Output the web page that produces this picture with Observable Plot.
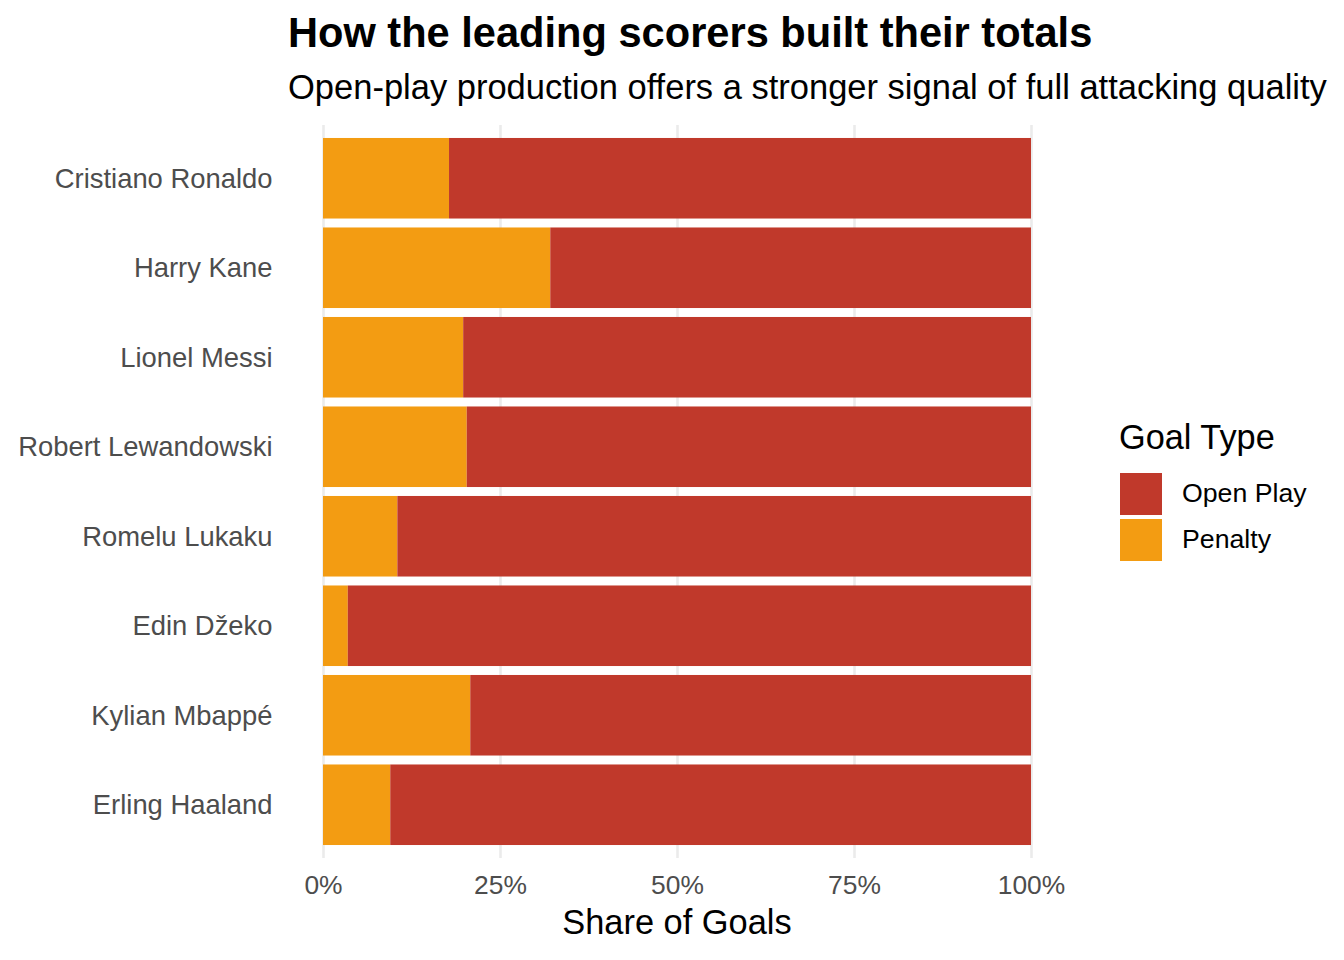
<!DOCTYPE html>
<html>
<head>
<meta charset="utf-8">
<script src="https://cdn.jsdelivr.net/npm/d3@7"></script>
<script src="https://cdn.jsdelivr.net/npm/@observablehq/plot@0.6"></script>
<style>
  html, body { margin: 0; padding: 0; background: #fff; }
  #wrap { position: relative; width: 1344px; height: 960px; font-family: "Liberation Sans", Arial, sans-serif; }
  #wrap svg { position: absolute; left: 0; top: 0; }
  .t { position: absolute; line-height: 1; white-space: nowrap; color: #000; }
  #title { left: 288px; top: 11.8px; font-size: 41.6px; font-weight: bold; }
  #subtitle { left: 288px; top: 69.8px; font-size: 34.5px; }
  #xtitle { left: 677px; top: 905px; font-size: 34.4px; transform: translateX(-50%); }
  #legend { position: absolute; left: 1119px; top: 420px; }
  #legend .lt { font-size: 34.3px; line-height: 1; white-space: nowrap; }
  .sw { position: absolute; width: 42px; height: 42px; }
  .ll { position: absolute; font-size: 26.7px; line-height: 1; white-space: nowrap; }
  .ytick text, .xtick text { fill: #4d4d4d; }
</style>
</head>
<body>
<div id="wrap">
  <div class="t" id="title">How the leading scorers built their totals</div>
  <div class="t" id="subtitle">Open-play production offers a stronger signal of full attacking quality</div>
  <div class="t" id="xtitle">Share of Goals</div>
  <div id="legend"></div>
</div>
<script>
const players = ["Cristiano Ronaldo", "Harry Kane", "Lionel Messi", "Robert Lewandowski", "Romelu Lukaku", "Edin Džeko", "Kylian Mbappé", "Erling Haaland"];
const penaltyShare  = [0.178, 0.321, 0.198, 0.203, 0.105, 0.035, 0.208, 0.095];
const openPlayShare = [0.822, 0.679, 0.802, 0.797, 0.895, 0.965, 0.792, 0.905];
const goalTypes = ["Open Play", "Penalty"];
const typeColors = ["#C0392B", "#F39C12"];
const xTicks = [0, 0.25, 0.5, 0.75, 1];

const rows = [];
players.forEach((p, i) => {
  rows.push({player: p, type: "Penalty", share: penaltyShare[i]});
  rows.push({player: p, type: "Open Play", share: openPlayShare[i]});
});

const chart = Plot.plot({
  width: 1344,
  height: 960,
  marginLeft: 323,
  marginRight: 313,
  marginTop: 125,
  marginBottom: 102,
  style: {fontFamily: "'Liberation Sans', Arial, sans-serif", background: "transparent"},
  x: {domain: [0, 1]},
  y: {domain: players, round: false, insetTop: 8.5, insetBottom: 8.5, paddingInner: 0.1, paddingOuter: 0.05},
  color: {domain: goalTypes, range: typeColors},
  marks: [
    Plot.gridX(xTicks, {stroke: "#ebebeb", strokeOpacity: 1, strokeWidth: 2.6}),
    Plot.barX(rows, Plot.stackX({
      x: "share",
      y: "player",
      fill: "type",
      order: ["Penalty", "Open Play"]
    })),
    Plot.axisY({tickSize: 0, tickPadding: 51, fontSize: 27.4, label: null, className: "ytick"}),
    Plot.axisX({ticks: xTicks, tickFormat: d3.format(".0%"), tickSize: 0, tickPadding: 17, fontSize: 26.4, label: null, className: "xtick"})
  ]
});
document.getElementById("wrap").prepend(chart);

const legend = document.getElementById("legend");
const lt = document.createElement("div");
lt.className = "lt";
lt.textContent = "Goal Type";
legend.appendChild(lt);
goalTypes.forEach((g, i) => {
  const sw = document.createElement("div");
  sw.className = "sw";
  sw.style.left = "1px";
  sw.style.top = (53 + i * 46) + "px";
  sw.style.background = typeColors[i];
  legend.appendChild(sw);
  const lab = document.createElement("div");
  lab.className = "ll";
  lab.style.left = "63px";
  lab.style.top = (60.4 + i * 46) + "px";
  lab.textContent = g;
  legend.appendChild(lab);
});
</script>
</body>
</html>
